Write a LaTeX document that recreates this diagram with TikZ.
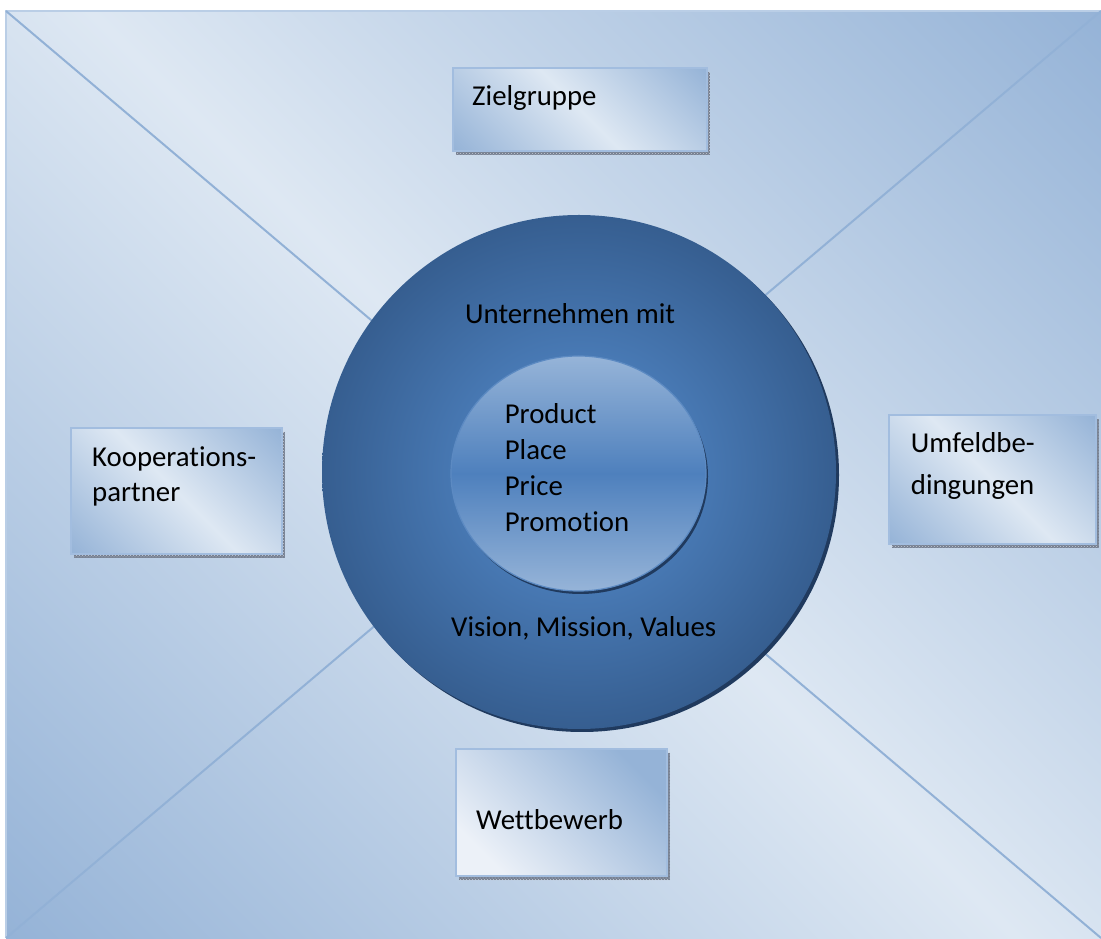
\documentclass[tikz,border=0pt]{standalone}
\usepackage{fontspec}
\setmainfont{Carlito}[Ligatures=NoCommon]
\usetikzlibrary{shapes.geometric,shadows,patterns}

% palette
\definecolor{bgdark}{RGB}{149,179,215}
\definecolor{bglight}{RGB}{222,232,243}
\definecolor{frameline}{RGB}{186,206,230}
\definecolor{diagline}{RGB}{146,177,214}
\definecolor{ringout}{RGB}{54,94,144}
\definecolor{ringin}{RGB}{74,124,184}
\definecolor{ringshadow}{RGB}{32,58,94}
\definecolor{ballrim}{RGB}{150,180,216}
\definecolor{ballmid}{RGB}{78,128,189}
\definecolor{boxedge}{RGB}{162,189,223}
\definecolor{boxshadow}{RGB}{118,128,146}
\definecolor{boxlight}{RGB}{236,241,248}

% light in the middle, darker towards two opposite corners
\pgfdeclarehorizontalshading{crossfade}{100bp}{color(0bp)=(bgdark); color(14.6bp)=(bgdark); color(50bp)=(bglight); color(85.4bp)=(bgdark); color(100bp)=(bgdark)}
% glassy ball: light rim top and bottom, saturated band in the middle
\pgfdeclareverticalshading{ballfade}{100bp}{color(0bp)=(ballrim); color(25bp)=(ballrim); color(50bp)=(ballmid); color(75bp)=(ballrim); color(100bp)=(ballrim)}
% ring: slightly lighter towards the centre
\pgfdeclareradialshading{ringfade}{\pgfpoint{0bp}{0bp}}{color(0bp)=(ringin); color(10bp)=(ringin); color(25bp)=(ringout); color(50bp)=(ringout)}

\tikzset{
  infobox/.style={rectangle, inner sep=0pt, draw=boxedge, line width=2.2pt,
    shade, shading=crossfade, shading angle=45,
    general shadow={shadow xshift=3pt, shadow yshift=-4pt, fill=boxshadow, draw=none},
    general shadow={shadow xshift=3pt, shadow yshift=-4pt, draw=none,
      pattern=crosshatch dots, pattern color=boxshadow!40!white}},
  lbl/.style={anchor=base west, inner sep=0pt, text=black,
    font=\fontsize{28.8}{34}\selectfont},
  diag/.style={draw=diagline, line width=2pt},
}

\begin{document}
\begin{tikzpicture}[x=1pt, y=1pt]
  \useasboundingbox (0,0) rectangle (1101,938);
  \fill[white] (0,0) rectangle (1101,938);

  % framed background panel
  \coordinate (tl) at (6,927);
  \coordinate (tr) at (1101,927);
  \coordinate (bl) at (6,0);
  \coordinate (br) at (1101,0);
  \shade[shading=crossfade, shading angle=45] (bl) rectangle (tr);
  \draw[frameline, line width=2.5pt] (bl) -- (tl) -- (tr);

  % diagonals crossing behind the centre
  \draw[diag] (tl) -- (br);
  \draw[diag] (tr) -- (bl);

  % company ring and marketing-mix ball
  \node[circle, minimum size=514pt, inner sep=0pt, shade, shading=ringfade,
        general shadow={shadow xshift=3pt, shadow yshift=-3pt, fill=ringshadow}]
        (firm) at (579,466) {};
  \node[ellipse, minimum width=255pt, minimum height=235pt, inner sep=0pt,
        draw=ballmid!80!ballrim, line width=1.2pt, shade, shading=ballfade,
        general shadow={shadow xshift=2pt, shadow yshift=-3pt, fill=ringshadow}]
        (mix) at (578.5,464.5) {};

  \node[lbl] (firmtop) at (465,614) {Unternehmen mit};
  \node[lbl] (firmbot) at (451,301.4) {Vision, Mission, Values};
  \node[lbl] (mixa) at (504.6,514) {Product};
  \node[lbl] (mixb) at (504.6,478) {Place};
  \node[lbl] (mixc) at (504.6,442) {Price};
  \node[lbl] (mixd) at (504.6,406) {Promotion};

  % surrounding factors
  \node[infobox, minimum width=254pt, minimum height=83pt] (ziel) at (580,828.5) {};
  \node[infobox, minimum width=211pt, minimum height=126pt] (koop) at (176.5,447) {};
  \node[infobox, minimum width=207pt, minimum height=129pt] (umf) at (992.5,458.5) {};
  \node[infobox, minimum width=211pt, minimum height=127pt,
        bottom color=boxlight, top color=bgdark, shading angle=-45] (wett) at (561.5,125.5) {};

  \node[lbl] (zieltext) at (472,832.3) {Zielgruppe};
  \node[lbl] (kooptexta) at (92,471) {Kooperations-};
  \node[lbl] (kooptextb) at (92,436) {partner};
  \node[lbl] (umftexta) at (910.7,485) {Umfeldbe-};
  \node[lbl] (umftextb) at (910.7,443) {dingungen};
  \node[lbl] (wetttext) at (476,109) {Wettbewerb};
\end{tikzpicture}
\end{document}
